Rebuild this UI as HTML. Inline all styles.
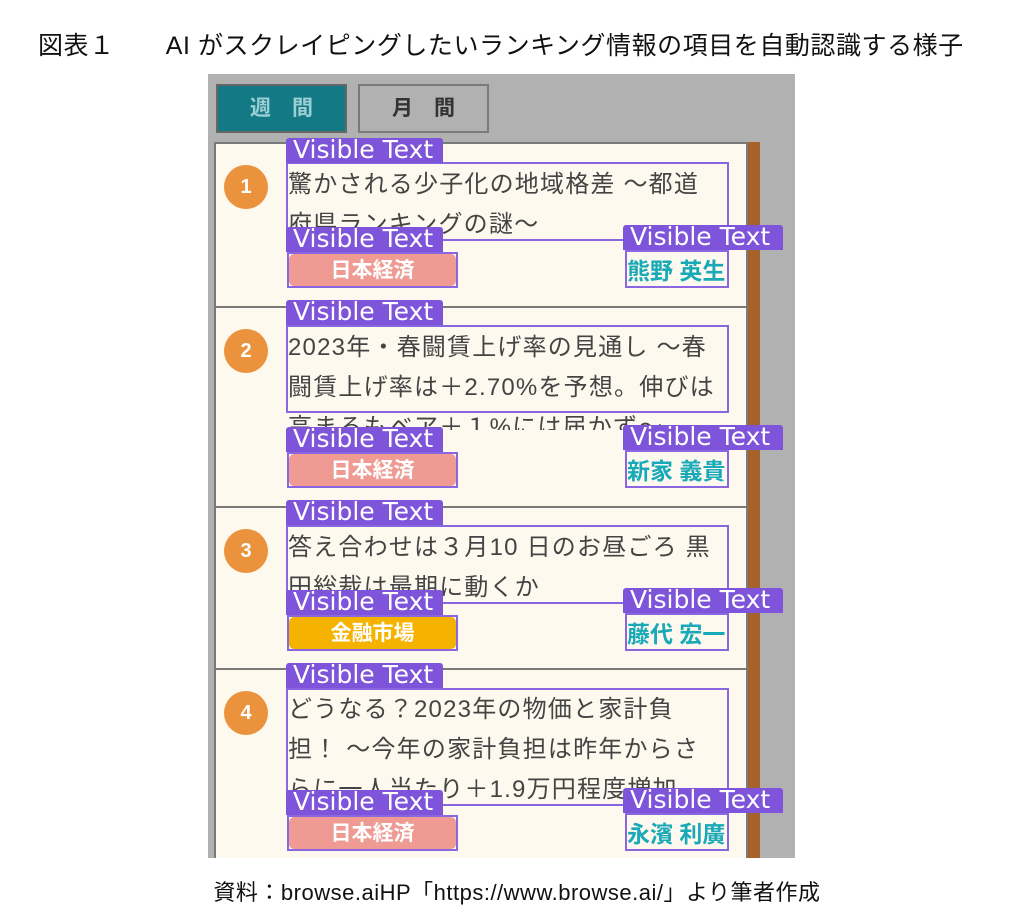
<!DOCTYPE html>
<html><head><meta charset="utf-8"><style>
*{margin:0;padding:0;box-sizing:border-box}
body{width:1014px;height:924px;background:#fff;position:relative;overflow:hidden;font-family:"Liberation Sans","Noto Sans CJK JP",sans-serif}
.a{position:absolute}
.card{position:absolute;left:214px;width:534px;background:#fdf9ee;border:2px solid #7a7a7a}
.num{position:absolute;left:224px;width:44px;height:44px;border-radius:50%;background:#eb923d;color:#fff;font-weight:bold;font-size:20px;text-align:center;line-height:44px}
.tag{position:absolute;height:25px;background:#7e55da;color:#fff;font-family:"DejaVu Sans",sans-serif;font-size:25px;line-height:24px;padding-left:7px;border-radius:3px 3px 0 0;white-space:nowrap;letter-spacing:0px}
.box{position:absolute;border:2px solid #8a66e0}
.ttl{position:absolute;left:286px;width:443px;overflow:hidden;color:#444;font-size:24px;letter-spacing:1.2px;line-height:40px;padding-left:2px;white-space:nowrap}
.badge{position:absolute;left:289px;width:167px;height:32px;border-radius:5px;color:#fff;font-weight:bold;font-size:21px;text-align:center;line-height:34px}
.auth{position:absolute;left:627px;color:#1aa9b8;font-weight:bold;font-size:23px;line-height:34px;white-space:nowrap}
</style></head><body>
<div class="a" style="left:38px;top:26px;font-size:25px;letter-spacing:0.55px;color:#111;white-space:nowrap">図表１　　AI がスクレイピングしたいランキング情報の項目を自動認識する様子</div>
<div class="a" style="left:208px;top:74px;width:587px;height:784px;background:#b1b1b1"></div>
<div class="a" style="left:216px;top:84px;width:131px;height:49px;background:#137a85;border:2px solid #666;color:#9ccfd4;font-size:21px;font-weight:bold;text-align:center;line-height:45px">週　間</div>
<div class="a" style="left:358px;top:84px;width:131px;height:49px;background:#b1b1b1;border:2px solid #7a7a7a;color:#333;font-size:21px;font-weight:bold;text-align:center;line-height:45px">月　間</div>
<div class="a" style="left:746px;top:142px;width:14px;height:716px;background:#a5622a"></div>

<div class="card" style="top:142px;height:166px"></div>
<div class="card" style="top:306px;height:202px"></div>
<div class="card" style="top:506px;height:164px"></div>
<div class="card" style="top:668px;height:200px;border-bottom:none"></div>
<div class="a" style="left:208px;top:858px;width:590px;height:66px;background:#fff"></div>

<!-- card 1 -->
<div class="num" style="top:165px">1</div>
<div class="ttl" style="top:165px;height:76px">驚かされる少子化の地域格差 ～都道<br>府県ランキングの謎～</div>
<div class="box" style="left:286px;top:162px;width:443px;height:79px"></div>
<div class="badge" style="top:254px;background:#ef9b94">日本経済</div>
<div class="box" style="left:287px;top:252px;width:171px;height:36px"></div>
<div class="auth" style="top:254px">熊野 英生</div>
<div class="box" style="left:625px;top:250px;width:104px;height:38px"></div>
<div class="tag" style="left:286px;top:138px;width:157px">Visible Text</div>
<div class="tag" style="left:286px;top:227px;width:157px">Visible Text</div>
<div class="tag" style="left:623px;top:225px;width:160px">Visible Text</div>

<!-- card 2 -->
<div class="num" style="top:329px">2</div>
<div class="ttl" style="top:328px;height:102px">2023年・春闘賃上げ率の見通し ～春<br>闘賃上げ率は＋2.70%を予想。伸びは<br>高まるもベア＋１%には届かず～</div>
<div class="box" style="left:286px;top:325px;width:443px;height:88px"></div>
<div class="badge" style="top:454px;background:#ef9b94">日本経済</div>
<div class="box" style="left:287px;top:452px;width:171px;height:36px"></div>
<div class="auth" style="top:454px">新家 義貴</div>
<div class="box" style="left:625px;top:450px;width:104px;height:38px"></div>
<div class="tag" style="left:286px;top:300px;width:157px">Visible Text</div>
<div class="tag" style="left:286px;top:427px;width:157px">Visible Text</div>
<div class="tag" style="left:623px;top:425px;width:160px">Visible Text</div>

<!-- card 3 -->
<div class="num" style="top:529px">3</div>
<div class="ttl" style="top:528px;height:76px">答え合わせは３月10 日のお昼ごろ 黒<br>田総裁は最期に動くか</div>
<div class="box" style="left:286px;top:525px;width:443px;height:79px"></div>
<div class="badge" style="top:617px;background:#f5b300">金融市場</div>
<div class="box" style="left:287px;top:615px;width:171px;height:36px"></div>
<div class="auth" style="top:617px">藤代 宏一</div>
<div class="box" style="left:625px;top:613px;width:104px;height:38px"></div>
<div class="tag" style="left:286px;top:500px;width:157px">Visible Text</div>
<div class="tag" style="left:286px;top:590px;width:157px">Visible Text</div>
<div class="tag" style="left:623px;top:588px;width:160px">Visible Text</div>

<!-- card 4 -->
<div class="num" style="top:691px">4</div>
<div class="ttl" style="top:690px;height:116px">どうなる？2023年の物価と家計負<br>担！ ～今年の家計負担は昨年からさ<br>らに一人当たり＋1.9万円程度増加</div>
<div class="box" style="left:286px;top:688px;width:443px;height:118px"></div>
<div class="badge" style="top:817px;background:#ef9b94">日本経済</div>
<div class="box" style="left:287px;top:815px;width:171px;height:36px"></div>
<div class="auth" style="top:817px">永濱 利廣</div>
<div class="box" style="left:625px;top:813px;width:104px;height:38px"></div>
<div class="tag" style="left:286px;top:663px;width:157px">Visible Text</div>
<div class="tag" style="left:286px;top:790px;width:157px">Visible Text</div>
<div class="tag" style="left:623px;top:788px;width:160px">Visible Text</div>

<div class="a" style="left:10px;width:1014px;top:875px;text-align:center;font-size:22px;letter-spacing:0.5px;color:#111;white-space:nowrap">資料：browse.aiHP「https://www.browse.ai/」より筆者作成</div>
</body></html>
